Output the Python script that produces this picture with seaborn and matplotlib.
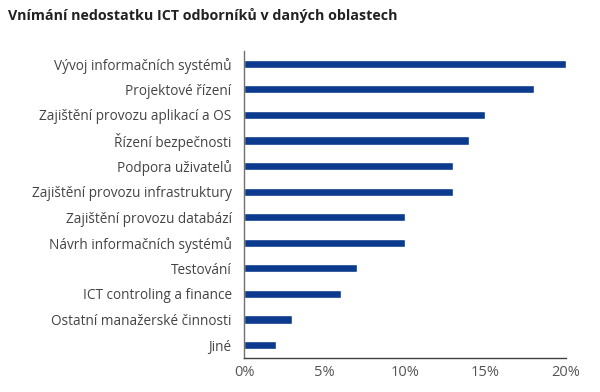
import matplotlib
matplotlib.use("Agg")
import matplotlib.pyplot as plt
import seaborn as sns
import pandas as pd

# Data
oblasti = [
    "Vývoj informačních systémů",
    "Projektové řízení",
    "Zajištění provozu aplikací a OS",
    "Řízení bezpečnosti",
    "Podpora uživatelů",
    "Zajištění provozu infrastruktury",
    "Zajištění provozu databází",
    "Návrh informačních systémů",
    "Testování",
    "ICT controling a finance",
    "Ostatní manažerské činnosti",
    "Jiné",
]
podil = [20, 18, 15, 14, 13, 13, 10, 10, 7, 6, 3, 2]
x_ticks = [0, 5, 10, 15, 20]
x_labels = ["0%", "5%", "10%", "15%", "20%"]

df = pd.DataFrame({"oblast": oblasti, "podil": podil})

sns.set_style("white")
plt.rcParams["font.family"] = ["Open Sans", "DejaVu Sans"]

fig = plt.figure(figsize=(6, 3.92), dpi=100)
ax = fig.add_axes([0.407, 0.087, 0.536, 0.783])

sns.barplot(data=df, x="podil", y="oblast", color="#0b3a8e", width=0.32,
            saturation=1, ax=ax)

ax.set_xlim(0, 20)
ax.set_xticks(x_ticks)
ax.set_xticklabels(x_labels)
ax.set_xlabel("")
ax.set_ylabel("")

for s in ["top", "right"]:
    ax.spines[s].set_visible(False)
ax.spines["left"].set_color("#707070")
ax.spines["bottom"].set_color("#404040")
ax.spines["left"].set_linewidth(1)
ax.spines["bottom"].set_linewidth(1)

ax.tick_params(axis="x", direction="in", length=6, width=1, color="#404040",
               labelsize=10.5, labelcolor="#555555", pad=5)
ax.tick_params(axis="y", length=0, labelsize=9.8, labelcolor="#444444", pad=9)

fig.text(0.013, 0.96, "Vnímání nedostatku ICT odborníků v daných oblastech",
         fontsize=10.3, fontweight="bold", color="#222222", va="center")

fig.savefig("out.png", dpi=100)
